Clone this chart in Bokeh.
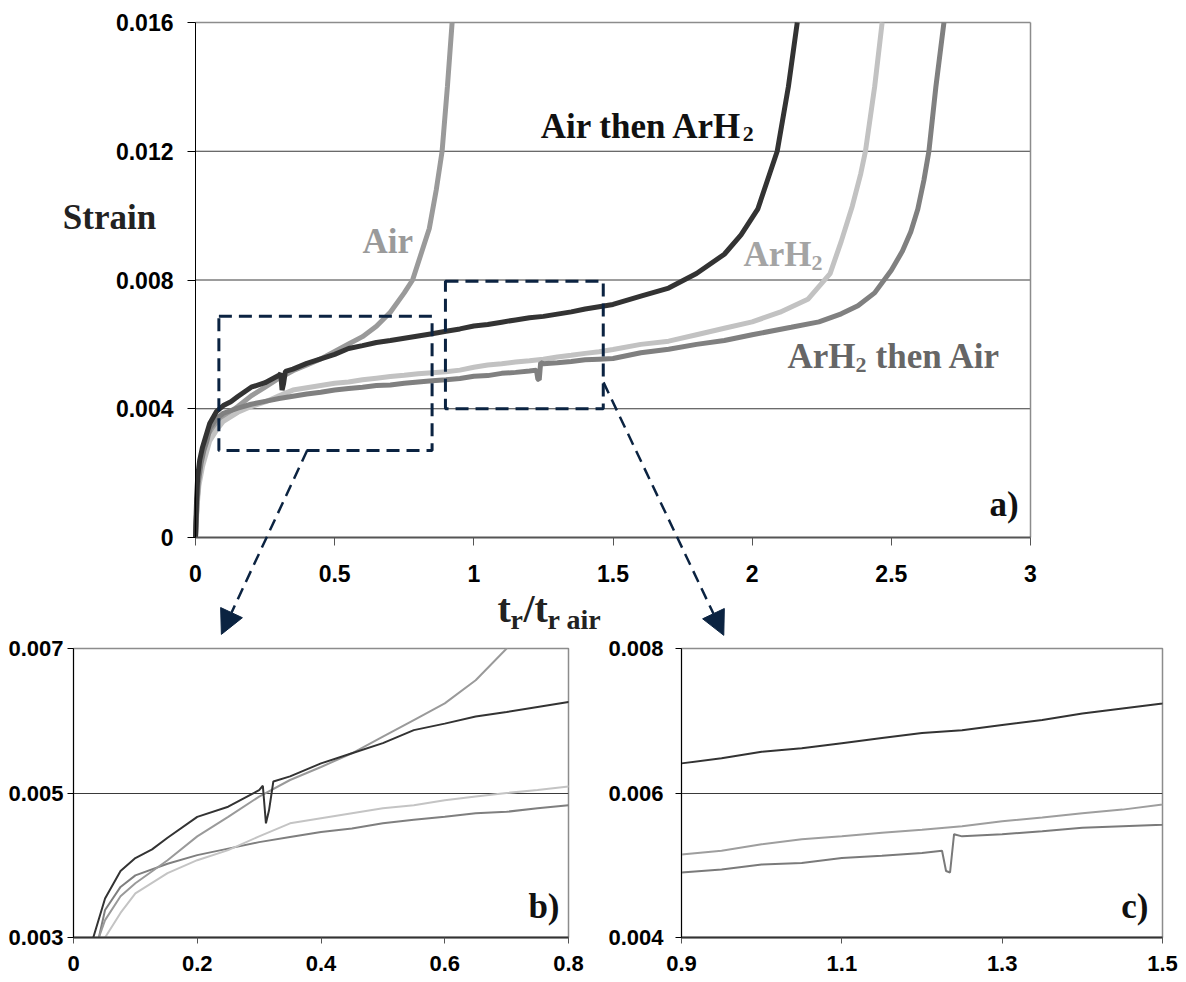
from bokeh.plotting import figure
from bokeh.layouts import column, row
from bokeh.models import Range1d, FixedTicker, Label, Arrow, NormalHead
from bokeh.embed import file_html
from bokeh.resources import INLINE

# ---------------- data ----------------
dark_x = [0, 0.004, 0.008, 0.015, 0.025, 0.032, 0.051, 0.076, 0.1, 0.127, 0.152,
          0.2, 0.25, 0.3, 0.306, 0.311, 0.316, 0.323, 0.35, 0.4, 0.45, 0.5, 0.55,
          0.6, 0.65, 0.7, 0.75, 0.8, 0.85, 0.9, 0.95, 1.0, 1.05, 1.1, 1.15, 1.2,
          1.25, 1.3, 1.35, 1.4, 1.45, 1.5, 1.6, 1.7, 1.8, 1.9, 1.96, 2.02, 2.055,
          2.09, 2.13, 2.162]
dark_y = [0, 0.0012, 0.0019, 0.0024, 0.0028, 0.0030, 0.00354, 0.00392, 0.00410,
          0.00422, 0.00438, 0.00467, 0.00481, 0.00504, 0.0051, 0.00458, 0.00476,
          0.00516, 0.00523, 0.00541, 0.00555, 0.00569, 0.00587, 0.00596, 0.00606,
          0.00612, 0.00619, 0.00626, 0.00633, 0.00641, 0.00648, 0.00657, 0.00662,
          0.00669, 0.00676, 0.00683, 0.00687, 0.00694, 0.00701, 0.0071, 0.00717,
          0.00724, 0.0075, 0.00775, 0.0082, 0.0088, 0.0094, 0.0102, 0.0111, 0.0120,
          0.0140, 0.0160]

air_x = [0, 0.005, 0.01, 0.02, 0.03, 0.041, 0.051, 0.076, 0.1, 0.152, 0.2, 0.25,
         0.3, 0.35, 0.4, 0.45, 0.5, 0.55, 0.6, 0.65, 0.7, 0.75, 0.78, 0.81, 0.84,
         0.865, 0.886, 0.905, 0.922]
air_y = [0, 0.0010, 0.0016, 0.0023, 0.0027, 0.0030, 0.00324, 0.00357, 0.00375,
         0.00407, 0.0044, 0.00467, 0.00495, 0.00518, 0.00536, 0.00555, 0.00578,
         0.00601, 0.00624, 0.00656, 0.0070, 0.0076, 0.0080, 0.0088, 0.0096, 0.0108,
         0.0120, 0.0140, 0.0160]

arh2_x = [0, 0.006, 0.012, 0.025, 0.038, 0.051, 0.076, 0.1, 0.152, 0.2, 0.25, 0.3,
          0.35, 0.4, 0.45, 0.5, 0.55, 0.6, 0.65, 0.7, 0.75, 0.8, 0.85, 0.9, 0.95,
          1.0, 1.05, 1.1, 1.15, 1.2, 1.25, 1.3, 1.35, 1.4, 1.45, 1.5, 1.6, 1.7, 1.8,
          1.9, 2.0, 2.1, 2.2, 2.28, 2.32, 2.36, 2.39, 2.407, 2.44, 2.467]
arh2_y = [0, 0.0010, 0.0016, 0.0022, 0.0026, 0.0030, 0.00334, 0.00361, 0.00389,
          0.00407, 0.00421, 0.0044, 0.00458, 0.00465, 0.00472, 0.00479, 0.00483,
          0.0049, 0.00495, 0.0050, 0.00504, 0.00509, 0.00512, 0.00515, 0.0052,
          0.00529, 0.00536, 0.0054, 0.00545, 0.00549, 0.00554, 0.00561, 0.00566,
          0.00572, 0.00577, 0.00584, 0.0060, 0.0061, 0.0063, 0.0065, 0.0067, 0.0070,
          0.0074, 0.0082, 0.0092, 0.0103, 0.0113, 0.0120, 0.0140, 0.0160]

arh2air_x = [0, 0.005, 0.01, 0.02, 0.03, 0.041, 0.051, 0.076, 0.1, 0.152, 0.2, 0.25,
             0.3, 0.35, 0.4, 0.45, 0.5, 0.55, 0.6, 0.65, 0.7, 0.75, 0.8, 0.85, 0.9,
             0.95, 1.0, 1.05, 1.1, 1.15, 1.2, 1.225, 1.23, 1.235, 1.24, 1.25, 1.3,
             1.35, 1.4, 1.45, 1.5, 1.6, 1.7, 1.8, 1.9, 2.0, 2.14, 2.24, 2.32, 2.38,
             2.44, 2.5, 2.54, 2.57, 2.595, 2.617, 2.635, 2.66, 2.689]
arh2air_y = [0, 0.0010, 0.0017, 0.0023, 0.0027, 0.0030, 0.00338, 0.0037, 0.00386,
             0.00402, 0.00414, 0.00423, 0.00432, 0.00439, 0.00446, 0.00451, 0.00458,
             0.00463, 0.00467, 0.00472, 0.00474, 0.00479, 0.00483, 0.00487, 0.0049,
             0.00494, 0.00501, 0.00503, 0.0051, 0.00513, 0.00517, 0.0052, 0.00492,
             0.0049, 0.00543, 0.0054, 0.00543, 0.00547, 0.00552, 0.00554, 0.00556,
             0.00574, 0.00585, 0.0060, 0.00612, 0.0063, 0.00653, 0.0067, 0.00695,
             0.0072, 0.0076, 0.0083, 0.0089, 0.0095, 0.0102, 0.0111, 0.0120, 0.0140,
             0.0160]

# zoom windows drawn on panel a)
zoom_left = [0.084, 0.898]
zoom_right = [0.850, 1.465]
zoom_bottom = [0.0027, 0.0040]
zoom_top = [0.00687, 0.00796]

# ticks / labels
a_xticks = [0, 0.5, 1, 1.5, 2, 2.5, 3]
a_xlabels = ["0", "0.5", "1", "1.5", "2", "2.5", "3"]
a_yticks = [0, 0.004, 0.008, 0.012, 0.016]
a_ylabels = ["0", "0.004", "0.008", "0.012", "0.016"]
a_grid = [0.004, 0.008, 0.012]
b_xticks = [0, 0.2, 0.4, 0.6, 0.8]
b_xlabels = ["0", "0.2", "0.4", "0.6", "0.8"]
b_yticks = [0.003, 0.005, 0.007]
b_ylabels = ["0.003", "0.005", "0.007"]
c_xticks = [0.9, 1.1, 1.3, 1.5]
c_xlabels = ["0.9", "1.1", "1.3", "1.5"]
c_yticks = [0.004, 0.006, 0.008]
c_ylabels = ["0.004", "0.006", "0.008"]

NAVY = "#0b2341"
SERIF = "Liberation Serif"
SANS = "Liberation Sans"


def style_ticks(fig, xt, xl, yt, yl, fsize, xstand, ystand, tick):
    fig.xaxis.ticker = FixedTicker(ticks=xt)
    fig.yaxis.ticker = FixedTicker(ticks=yt)
    fig.xaxis.major_label_overrides = dict(zip(xt, xl))
    fig.yaxis.major_label_overrides = dict(zip(yt, yl))
    for ax in (fig.xaxis, fig.yaxis):
        ax.minor_tick_line_color = None
        ax.major_tick_in = 0
        ax.major_tick_out = tick
        ax.major_label_text_font = SANS
        ax.major_label_text_font_style = "bold"
        ax.major_label_text_font_size = fsize
        ax.major_label_text_color = "#000000"
        ax.axis_label = None
    fig.xaxis.major_label_standoff = xstand
    fig.yaxis.major_label_standoff = ystand
    fig.yaxis.axis_line_color = "#000000"
    fig.yaxis.major_tick_line_color = "#000000"
    fig.xaxis.axis_line_color = "#555555"
    fig.xaxis.axis_line_width = 2
    fig.xaxis.major_tick_line_color = "#555555"
    fig.background_fill_color = "white"
    fig.border_fill_color = "white"


def lbl(fig, x, y, text, size, color, xo=0, yo=0, align="left", lift=0):
    fig.add_layout(Label(x=x, y=y, text=text, x_offset=xo, y_offset=yo + lift,
                         text_font=SERIF, text_font_style="bold",
                         text_font_size=size, text_color=color,
                         text_align=align, text_baseline="alphabetic"))


# ---------------- panel a) : frame covers the whole canvas, axes fixed at 0 ----------------
W_A, H_A = 1170, 637
X0_PX, X3_PX = 195, 1030          # pixel columns of x=0 and x=3
YTOP_PX, Y0_PX = 22, 537          # pixel rows of y=0.016 and y=0
sx = (X3_PX - X0_PX) / (a_xticks[-1] - a_xticks[0])
sy = (Y0_PX - YTOP_PX) / (a_yticks[-1] - a_yticks[0])
xr = Range1d(-X0_PX / sx, -X0_PX / sx + W_A / sx)
yr = Range1d(-(H_A - Y0_PX) / sy, a_yticks[-1] + YTOP_PX / sy)

p = figure(width=W_A, height=H_A, x_range=xr, y_range=yr,
           output_backend="svg", toolbar_location=None, min_border=0)
style_ticks(p, a_xticks, a_xlabels, a_yticks, a_ylabels, "23px", 19, 14, 8)
p.outline_line_color = None
p.grid.visible = False
p.xaxis.fixed_location = 0
p.yaxis.fixed_location = 0
p.xaxis.bounds = (a_xticks[0], a_xticks[-1])
p.yaxis.bounds = (a_yticks[0], a_yticks[-1])

# grid lines and plot border
p.segment(x0=[a_xticks[0]] * len(a_grid), x1=[a_xticks[-1]] * len(a_grid),
          y0=a_grid, y1=a_grid, line_color="#3a3a3a", line_width=1)
p.segment(x0=[a_xticks[0], a_xticks[-1]], x1=[a_xticks[-1], a_xticks[-1]],
          y0=[a_yticks[-1], a_yticks[0]], y1=[a_yticks[-1], a_yticks[-1]],
          line_color="#8c8c8c", line_width=1.5)

p.line(air_x, air_y, line_color="#9a9a9a", line_width=5)
p.line(arh2_x, arh2_y, line_color="#c2c2c2", line_width=5)
p.line(arh2air_x, arh2air_y, line_color="#808080", line_width=5)
p.line(dark_x, dark_y, line_color="#333333", line_width=5)

p.quad(left=zoom_left, right=zoom_right, bottom=zoom_bottom, top=zoom_top,
       fill_alpha=0, line_color=NAVY, line_width=3, line_dash="13 7")

p.add_layout(Arrow(end=NormalHead(size=24, fill_color=NAVY, line_color=NAVY),
                   x_start=0.401, y_start=0.0027, x_end=0.093, y_end=-0.00301,
                   line_color=NAVY, line_width=2.5, line_dash="12 7"))
p.add_layout(Arrow(end=NormalHead(size=24, fill_color=NAVY, line_color=NAVY),
                   x_start=1.466, y_start=0.00482, x_end=1.898, y_end=-0.00304,
                   line_color=NAVY, line_width=2.5, line_dash="12 7"))

L = 9   # visual lift of the serif labels
lbl(p, 1.240, 0.01249, "Air then ArH", "35px", "#111111", lift=L)
lbl(p, 1.240, 0.01249, "2", "22px", "#111111", xo=202, yo=-8, lift=L)
lbl(p, 0.600, 0.00892, "Air", "35px", "#9a9a9a", lift=L)
lbl(p, 1.969, 0.00851, "ArH", "35px", "#a4a4a4", lift=L)
lbl(p, 1.969, 0.00851, "2", "22px", "#a4a4a4", xo=68, yo=-8, lift=L)
lbl(p, 2.127, 0.00534, "ArH", "35px", "#666666", lift=L)
lbl(p, 2.127, 0.00534, "2", "22px", "#666666", xo=68, yo=-8, lift=L)
lbl(p, 2.127, 0.00534, "then Air", "35px", "#666666", xo=88, lift=L)
lbl(p, 2.957, 0.000746, "a)", "35px", "#111111", align="right", lift=L)
lbl(p, -0.309, 0.0096, "Strain", "35px", "#222222", align="center", lift=L + 2)
# axis title t_r / t_r air
lbl(p, 1.0852, -0.002485, "t", "40px", "#222222", lift=L)
lbl(p, 1.0852, -0.002485, "r", "28px", "#222222", xo=13, yo=-11, lift=L)
lbl(p, 1.0852, -0.002485, "/", "40px", "#222222", xo=26, lift=L)
lbl(p, 1.0852, -0.002485, "t", "40px", "#222222", xo=37, lift=L)
lbl(p, 1.0852, -0.002485, "r air", "28px", "#222222", xo=50, yo=-11, lift=L)


def zoom_panel(width, xr_, yr_, left, right, xt, xl, yt, yl, grid, ystand):
    f = figure(width=width, height=344, x_range=Range1d(*xr_), y_range=Range1d(*yr_),
               output_backend="svg", toolbar_location=None,
               min_border_left=left, min_border_right=right, min_border_top=11,
               min_border_bottom=44)
    style_ticks(f, xt, xl, yt, yl, "22px", 12, ystand, 6)
    f.xaxis.axis_line_color = "#333333"
    f.xgrid.grid_line_color = None
    f.ygrid.ticker = FixedTicker(ticks=grid)
    f.ygrid.grid_line_color = "#3a3a3a"
    f.outline_line_color = "#8c8c8c"
    f.outline_line_width = 1.5
    return f


# ---------------- panel b) ----------------
pb = zoom_panel(600, (0, 0.8), (0.003, 0.007), 73, 32, b_xticks, b_xlabels,
                b_yticks, b_ylabels, [0.005], 4)
pb.line(arh2air_x, arh2air_y, line_color="#7f7f7f", line_width=2)
pb.line(arh2_x, arh2_y, line_color="#c4c4c4", line_width=2)
pb.line(air_x, air_y, line_color="#9a9a9a", line_width=2)
pb.line(dark_x, dark_y, line_color="#333333", line_width=2)
lbl(pb, 0.7855, 0.003304, "b)", "35px", "#111111", align="right", lift=9)

# ---------------- panel c) ----------------
pc = zoom_panel(578, (0.9, 1.5), (0.004, 0.008), 81, 16, c_xticks, c_xlabels,
                c_yticks, c_ylabels, [0.006], 12)
pc.line(arh2_x, arh2_y, line_color="#9e9e9e", line_width=2)
pc.line(arh2air_x, arh2air_y, line_color="#7a7a7a", line_width=2)
pc.line(dark_x, dark_y, line_color="#333333", line_width=2)
lbl(pc, 1.4825, 0.004304, "c)", "35px", "#111111", align="right", lift=9)

layout = column(p, row(pb, pc))
open("out.html", "w").write(file_html(layout, INLINE))
